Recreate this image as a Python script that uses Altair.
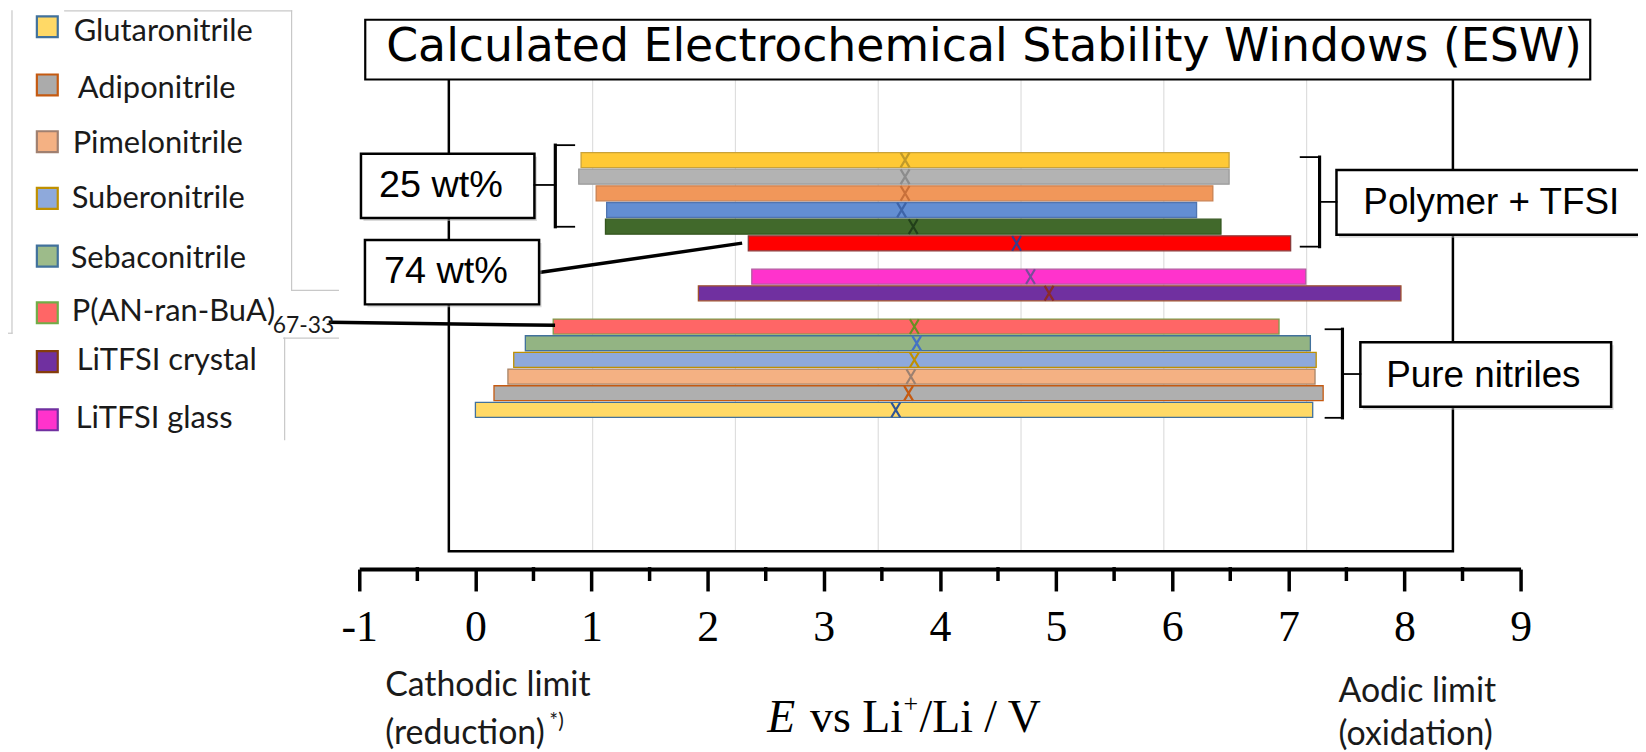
import altair as alt
import pandas as pd

# ---------------- data ----------------
row_keys = [
    "Glutaronitrile 25 wt%", "Adiponitrile 25 wt%", "Pimelonitrile 25 wt%",
    "Suberonitrile 25 wt%", "Sebaconitrile 25 wt%", "P(AN-ran-BuA) 74 wt%",
    "gap 1", "LiTFSI glass", "LiTFSI crystal", "gap 2",
    "P(AN-ran-BuA)", "Sebaconitrile", "Suberonitrile", "Pimelonitrile",
    "Adiponitrile", "Glutaronitrile",
]
series = [k for k in row_keys if not k.startswith("gap")]
cathodic = [0.91, 0.89, 1.04, 1.13, 1.12, 2.35, 2.38, 1.92, 0.67, 0.43, 0.33, 0.28, 0.16, 0.00]
anodic = [6.49, 6.49, 6.35, 6.21, 6.42, 7.02, 7.15, 7.97, 6.92, 7.19, 7.24, 7.23, 7.30, 7.21]
marker = [3.70, 3.70, 3.70, 3.67, 3.77, 4.66, 4.78, 4.94, 3.78, 3.80, 3.78, 3.75, 3.73, 3.62]

legend_names = ["Glutaronitrile", "Adiponitrile", "Pimelonitrile", "Suberonitrile",
                "Sebaconitrile", "P(AN-ran-BuA)", "LiTFSI crystal", "LiTFSI glass"]
major_ticks = [-1, 0, 1, 2, 3, 4, 5, 6, 7, 8, 9]
minor_ticks = [-0.5, 0.5, 1.5, 2.5, 3.5, 4.5, 5.5, 6.5, 7.5, 8.5]

# ---------------- styles ----------------
fill_colors = ["#FFC935", "#B3B3B3", "#F1975A", "#638ED2", "#41692B", "#FF0000",
               "#FF33CC", "#7030A0",
               "#FF6666", "#93B483", "#8EA9DB", "#F4B183", "#AFAFAF", "#FFD966"]
stroke_colors = ["#C9A23A", "#9A9A9A", "#C98050", "#5075B0", "#34561F", "#8B3A3A",
                 "#B35AA0", "#A0522D",
                 "#7F9A4A", "#41719C", "#BF9000", "#A88468", "#C55A11", "#41719C"]
marker_colors = ["#C09A2A", "#8C8C8C", "#C8703A", "#3E64A8", "#22401A", "#3A3A8A",
                 "#7A4C9A", "#8B2A2A",
                 "#6B8E23", "#4472C4", "#BF9000", "#9C8070", "#C55A11", "#2F5597"]
legend_fill = ["#FFD966", "#ABABAB", "#F4B183", "#8EA9DB", "#9DBB8A", "#FF6666", "#7030A0", "#FF33CC"]
legend_stroke = ["#41719C", "#C55A11", "#A08070", "#BF9000", "#41719C", "#70AD47", "#843C0C", "#7030A0"]

M = 8
W, H = 1630, 562


def px(v):
    return v - M


df = pd.DataFrame({"row": series, "cathodic": cathodic, "anodic": anodic, "mid": marker})
one = pd.DataFrame({"k": [0]})

xscale = alt.Scale(domain=[-1, 9], range=[px(361), px(1528)], nice=False, zero=False)
yscale = alt.Scale(domain=row_keys, range=[px(150.6), px(418.4)], paddingInner=0.1, paddingOuter=0.05)
xaxis = alt.Axis(values=major_ticks, title="", grid=False, tickSize=22, tickWidth=3.5,
                 tickColor="black", domainColor="black", domainWidth=4,
                 labelFont="Liberation Serif", labelFontSize=44, labelColor="black",
                 labelPadding=15, labelFlush=False, labelOverlap=False,
                 labelExpr="datum.value < 0 ? '-' + format(-datum.value, 'd') : format(datum.value, 'd')")


def seg(x1, y1, x2, y2, w=2.0, c="black"):
    return alt.Chart(one).mark_rule(strokeWidth=w, color=c, strokeCap="square").encode(
        x=alt.value(px(x1)), y=alt.value(px(y1)), x2=alt.value(px(x2)), y2=alt.value(px(y2)))


def box(x1, y1, x2, y2, fill="white", stroke="black", w=2.5, opacity=1.0):
    return alt.Chart(one).mark_rect(fill=fill, stroke=stroke, strokeWidth=w, opacity=opacity).encode(
        x=alt.value(px(x1)), y=alt.value(px(y1)), x2=alt.value(px(x2)), y2=alt.value(px(y2)))


def frame(x1, y1, x2, y2, stroke="black", w=2.5):
    return alt.Chart(one).mark_rect(fillOpacity=0, stroke=stroke, strokeWidth=w).encode(
        x=alt.value(px(x1)), y=alt.value(px(y1)), x2=alt.value(px(x2)), y2=alt.value(px(y2)))


def txt(s, x, y, size, font, align="left", color="black", style="normal"):
    return alt.Chart(one).mark_text(text=s, font=font, fontSize=size, align=align,
                                    baseline="middle", color=color, fontStyle=style).encode(
        x=alt.value(px(x)), y=alt.value(px(y)))


layers = []

# inner plot grid and frame
for gx in [595.5, 739, 882.5, 1026, 1169.5, 1313]:
    layers.append(seg(gx, 70, gx, 551, w=1.2, c="#DEDEDE"))
layers.append(frame(451, 45, 1460, 552, w=2.5))

# bars
bars = alt.Chart(df).mark_bar(strokeWidth=1.3).encode(
    x=alt.X("cathodic:Q", scale=xscale, axis=xaxis),
    x2="anodic:Q",
    y=alt.Y("row:N", scale=yscale, axis=None),
    fill=alt.Fill("row:N", scale=alt.Scale(domain=series, range=fill_colors), legend=None),
    stroke=alt.Stroke("row:N", scale=alt.Scale(domain=series, range=stroke_colors), legend=None),
)
layers.append(bars)

marks = alt.Chart(df).mark_point(shape="M-0.6,-1L0.6,1M0.6,-1L-0.6,1", size=220, filled=False,
                                 strokeWidth=2.2, opacity=1).encode(
    x=alt.X("mid:Q", scale=xscale, axis=xaxis),
    y=alt.Y("row:N", scale=yscale, axis=None),
    color=alt.Color("row:N", scale=alt.Scale(domain=series, range=marker_colors), legend=None),
)
layers.append(marks)

# minor ticks of the bottom axis
minor = alt.Chart(pd.DataFrame({"t": minor_ticks})).mark_rule(strokeWidth=3.5, color="black").encode(
    x=alt.X("t:Q", scale=xscale, axis=xaxis),
    y=alt.value(px(568)), y2=alt.value(px(582)))
layers.append(minor)

# leader lines
layers.append(seg(541.7, 272, 744, 242.7, w=3.5))
layers.append(seg(332, 322, 556, 325, w=3.5))

# label boxes with soft shadow
for (x1, y1, x2, y2) in [(362.7, 152.7, 537, 217.3), (366.7, 239.3, 541.7, 304),
                         (1343, 169, 1660, 234), (1367, 342, 1619, 407)]:
    layers.append(box(x1 + 2.5, y1 + 3, x2 + 2.5, y2 + 3, fill="#BBBBBB", stroke="#BBBBBB", w=0, opacity=0.55))
    layers.append(box(x1, y1, x2, y2))

layers.append(txt("25 wt%", 443, 185.5, 38, "Liberation Sans", align="center"))
layers.append(txt("74 wt%", 448, 272, 38, "Liberation Sans", align="center"))
layers.append(txt("Polymer + TFSI", 1370, 202.5, 37, "Liberation Sans"))
layers.append(txt("Pure nitriles", 1393, 376, 37, "Liberation Sans"))

# brackets
layers += [seg(558, 144, 558, 226, w=3.2), seg(558, 144, 577, 144, w=1.8), seg(558, 226, 577, 226, w=1.8),
           seg(537, 184, 558, 184, w=1.8)]
layers += [seg(1326, 156, 1326, 246, w=3.2), seg(1307, 156, 1326, 156, w=1.8), seg(1307, 246, 1326, 246, w=1.8),
           seg(1326, 201, 1343, 201, w=1.8)]
layers += [seg(1349, 329, 1349, 418, w=3.2), seg(1332, 329, 1349, 329, w=1.8), seg(1332, 418, 1349, 418, w=1.8),
           seg(1349, 374, 1367, 374, w=1.8)]

# title box
layers.append(box(367, 18, 1598, 78, w=2.2))
layers.append(txt("Calculated Electrochemical Stability Windows (ESW)", 388, 45, 46, "DejaVu Sans"))

# legend (drawn as shapes and text)
legend_frame = "#C8C8C8"
layers += [seg(65, 9, 293, 9, w=1.2, c=legend_frame), seg(12, 9, 12, 333, w=1.2, c=legend_frame),
           seg(293, 9, 293, 290, w=1.2, c=legend_frame), seg(293, 290, 340, 290, w=1.2, c=legend_frame),
           seg(0, 333, 12, 333, w=1.2, c=legend_frame), seg(285, 338, 340, 338, w=1.2, c=legend_frame),
           seg(286, 338, 286, 440, w=1.2, c=legend_frame)]
sw_y = [25, 83.5, 140.5, 197.5, 255.5, 312.5, 361.5, 420]
tx_y = [30, 88, 142.5, 198, 258, 312, 361, 419]
tx_x = [74, 78, 73, 72, 71, 72, 77, 76]
for i, name in enumerate(legend_names):
    layers.append(box(37, sw_y[i] - 10.5, 58, sw_y[i] + 10.5, fill=legend_fill[i], stroke=legend_stroke[i], w=2.2))
    layers.append(txt(name, tx_x[i], tx_y[i], 31, "Lato", color="#1a1a1a"))
layers.append(txt("67-33", 274, 326, 23, "Lato", color="#1a1a1a"))

# bottom annotations
layers.append(txt("E", 771, 720, 46, "Liberation Serif", style="italic"))
layers.append(txt("vs Li", 814, 720, 46, "Liberation Serif"))
layers.append(txt("+", 908, 706, 26, "Liberation Serif"))
layers.append(txt("/Li  /  V", 924, 720, 46, "Liberation Serif"))
layers.append(txt("Cathodic limit", 387, 688, 34, "Lato", color="#1a1a1a"))
layers.append(txt("(reduction)", 387, 736, 34, "Lato", color="#1a1a1a"))
layers.append(txt("*)", 552, 724, 21, "Lato", color="#1a1a1a"))
layers.append(txt("Aodic limit", 1345, 694, 34, "Lato", color="#1a1a1a"))
layers.append(txt("(oxidation)", 1345, 737, 34, "Lato", color="#1a1a1a"))

chart = alt.layer(*layers).properties(
    width=W, height=H,
    autosize=alt.AutoSizeParams(type="none"),
    padding={"left": 0, "top": 0, "right": 8, "bottom": 752 - M - H},
).configure_view(stroke=None)

chart.save("out.html", embed_options={"renderer": "svg", "actions": False})
